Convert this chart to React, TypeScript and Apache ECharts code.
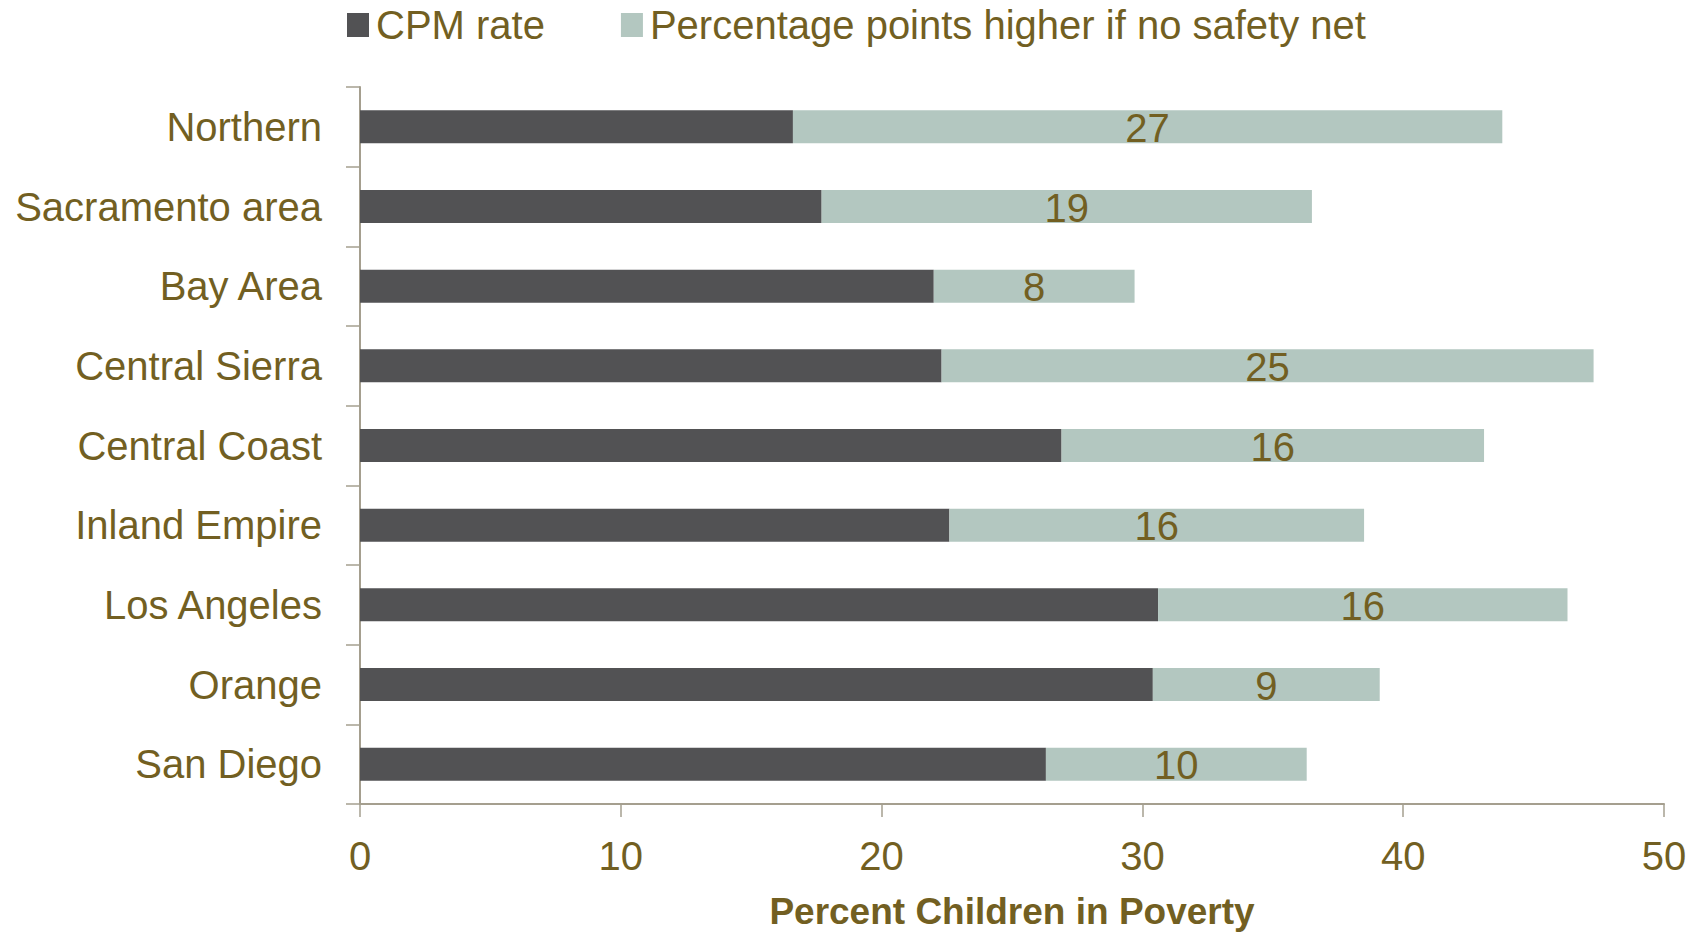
import React, { useEffect, useRef } from "react";
import * as echarts from "echarts";

const categories = [
  "Northern",
  "Sacramento area",
  "Bay Area",
  "Central Sierra",
  "Central Coast",
  "Inland Empire",
  "Los Angeles",
  "Orange",
  "San Diego",
];
const cpmRate = [16.6, 17.7, 22.0, 22.3, 26.9, 22.6, 30.6, 30.4, 26.3];
const noSafetyNetExtra = [27.2, 18.8, 7.7, 25.0, 16.2, 15.9, 15.7, 8.7, 10.0];
const xTicks = { min: 0, max: 50, interval: 10 };

const TEXT = "#725f22";
const AXIS = "#a59f8f";
const DARK = "#525254";
const LIGHT = "#b3c7c0";
const FONT = "'Liberation Sans', Arial, sans-serif";

export default function App() {
  const ref = useRef<HTMLDivElement>(null);
  useEffect(() => {
    if (!ref.current) return;
    const chart = echarts.init(ref.current, null, { renderer: "svg" });
    chart.setOption({
      animation: false,
      backgroundColor: "#ffffff",
      textStyle: { fontFamily: FONT, color: TEXT },
      legend: {
        left: 342,
        top: 0,
        itemWidth: 22,
        itemHeight: 24,
        itemGap: 76,
        icon: "rect",
        textStyle: { fontSize: 40, color: TEXT, fontFamily: FONT, padding: [0, 0, 0, 2] },
        data: ["CPM rate", "Percentage points higher if no safety net"],
      },
      grid: {
        left: 360,
        right: 40,
        top: 87,
        bottom: 130,
        containLabel: false,
        outerBoundsMode: "none",
      },
      xAxis: {
        type: "value",
        min: xTicks.min,
        max: xTicks.max,
        interval: xTicks.interval,
        name: "Percent Children in Poverty",
        nameLocation: "middle",
        nameGap: 89,
        nameTextStyle: { fontSize: 37, fontWeight: "bold", color: TEXT, fontFamily: FONT },
        axisLine: { show: true, lineStyle: { color: AXIS, width: 2 } },
        axisTick: { show: true, length: 13, lineStyle: { color: AXIS, width: 1.5 } },
        axisLabel: { fontSize: 40, color: TEXT, margin: 32, fontFamily: FONT },
        splitLine: { show: false },
      },
      yAxis: {
        type: "category",
        inverse: true,
        data: categories,
        axisLine: { show: true, lineStyle: { color: AXIS, width: 2 } },
        axisTick: { show: true, length: 14, lineStyle: { color: AXIS, width: 1.5 } },
        axisLabel: { fontSize: 40, color: TEXT, margin: 38, fontFamily: FONT },
      },
      series: [
        {
          name: "CPM rate",
          type: "bar",
          stack: "total",
          barWidth: 33,
          itemStyle: { color: DARK },
          data: cpmRate,
        },
        {
          name: "Percentage points higher if no safety net",
          type: "bar",
          stack: "total",
          barWidth: 33,
          itemStyle: { color: LIGHT },
          label: {
            show: true,
            position: "inside",
            offset: [0, 1],
            fontSize: 40,
            color: TEXT,
            fontFamily: FONT,
            formatter: (p: any) => String(Math.round(p.value)),
          },
          data: noSafetyNetExtra,
        },
      ],
    });
    return () => chart.dispose();
  }, []);
  return (
    <div
      ref={ref}
      style={{ position: "fixed", left: 0, top: 0, width: 1704, height: 934 }}
    />
  );
}
